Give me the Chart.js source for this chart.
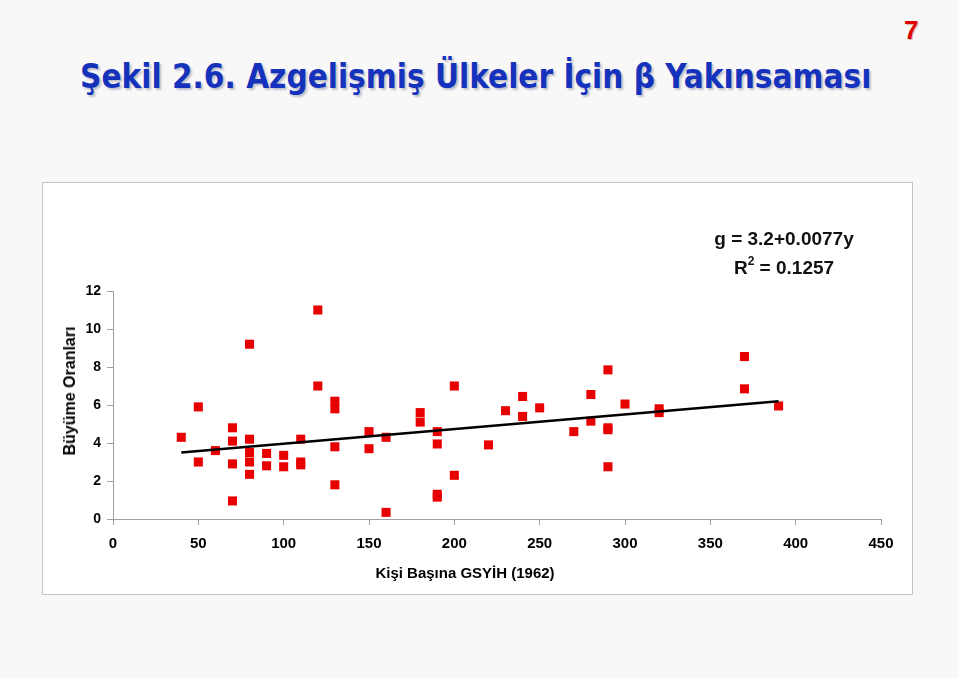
<!DOCTYPE html>
<html>
<head>
<meta charset="utf-8">
<script src="https://cdn.jsdelivr.net/npm/chart.js@4/dist/chart.umd.min.js"></script>
<style>
  body { margin: 0; background: #f8f8f8; width: 959px; height: 678px; position: relative; overflow: hidden; font-family: "Liberation Sans", Arial, sans-serif; }
  #title { position: absolute; left: 80px; top: 57px; font-family: "DejaVu Sans Condensed", "DejaVu Sans", sans-serif; font-weight: bold; font-size: 33px; color: #1432bc; white-space: nowrap; text-shadow: 2px 2px 2px #c0c0cc; }
  #page { position: absolute; left: 904px; top: 15px; font-weight: bold; font-size: 26px; color: #e00000; text-shadow: 1px 1px 1px #d0b0b0; }
  #box { position: absolute; left: 42px; top: 182px; width: 869px; height: 411px; background: #fff; border: 1px solid #c4c4c4; }
  #eq { position: absolute; left: 674px; top: 224px; font-weight: bold; font-size: 19px; color: #111; text-align: center; width: 220px; line-height: 29px; }
  #eq sup { font-size: 12px; line-height: 0; position: relative; top: -2px; }
  #ytitle { position: absolute; left: 70px; top: 391px; transform: translate(-50%, -50%) rotate(-90deg); font-weight: bold; font-size: 16px; white-space: nowrap; }
  #xtitle { position: absolute; left: 465px; top: 572px; transform: translate(-50%, -50%); font-weight: bold; font-size: 15px; white-space: nowrap; }
</style>
</head>
<body>
<div id="page">7</div>
<div id="title">Şekil 2.6. Azgelişmiş Ülkeler İçin β Yakınsaması</div>
<div id="box"><canvas id="chart" width="869" height="411"></canvas></div>
<div id="eq">g = 3.2+0.0077y<br>R<sup>2</sup> = 0.1257</div>
<div id="ytitle">Büyüme Oranları</div>
<div id="xtitle">Kişi Başına GSYİH (1962)</div>
<script>
// GSYİH per head (1962) and growth rate
const gdp = [40, 50, 50, 60, 70, 70, 70, 70, 80, 80, 80, 80, 80, 90, 90, 100, 100, 110, 110, 110,
  120, 120, 130, 130, 130, 130, 150, 150, 160, 160, 180, 180, 190, 190, 190, 190, 200, 200, 220, 230,
  240, 240, 250, 270, 280, 280, 290, 290, 290, 290, 300, 320, 320, 370, 370, 390];
const growth = [4.3, 5.9, 3.0, 3.6, 4.8, 4.1, 2.9, 0.95, 9.2, 4.2, 3.5, 3.0, 2.35, 3.45, 2.8, 3.35, 2.75, 4.2, 3.0, 2.85,
  11.0, 7.0, 6.2, 5.8, 3.8, 1.8, 4.6, 3.7, 4.3, 0.35, 5.6, 5.1, 4.6, 3.95, 1.3, 1.15, 7.0, 2.3, 3.9, 5.7,
  6.45, 5.4, 5.85, 4.6, 6.55, 5.15, 7.85, 4.8, 4.7, 2.75, 6.05, 5.8, 5.6, 8.55, 6.85, 5.95];

// trend line endpoints
const trendX = [40, 390];
const trendY = [3.5, 6.2];

const xTicks = [0, 50, 100, 150, 200, 250, 300, 350, 400, 450];
const yTicks = [0, 2, 4, 6, 8, 10, 12];

const points = gdp.map((x, i) => ({ x: x, y: growth[i] }));
const trend = trendX.map((x, i) => ({ x: x, y: trendY[i] }));

const axisColor = '#a0a0a0';

new Chart(document.getElementById('chart'), {
  type: 'scatter',
  data: {
    datasets: [
      {
        data: points,
        pointStyle: 'rect',
        pointRadius: 6.4,
        pointHoverRadius: 6.4,
        backgroundColor: '#e80000',
        borderWidth: 0,
        order: 2
      },
      {
        type: 'line',
        data: trend,
        borderColor: '#000',
        borderWidth: 2.6,
        pointRadius: 0,
        fill: false,
        order: 1
      }
    ]
  },
  options: {
    animation: false,
    responsive: false,
    layout: { padding: { left: 0, right: 31, top: 108, bottom: 0 } },
    plugins: { legend: { display: false }, tooltip: { enabled: false } },
    scales: {
      x: {
        type: 'linear',
        min: 0, max: 450,
        afterBuildTicks: s => { s.ticks = xTicks.map(v => ({ value: v })); },
        afterFit: s => { s.height = 75; },
        grid: { drawOnChartArea: false, color: axisColor, tickLength: 6 },
        border: { color: axisColor, width: 1 },
        ticks: { color: '#000', font: { family: '"Liberation Sans", Arial', size: 15, weight: 'bold' }, padding: 10, maxRotation: 0 }
      },
      y: {
        type: 'linear',
        min: 0, max: 12,
        afterBuildTicks: s => { s.ticks = yTicks.map(v => ({ value: v })); },
        afterFit: s => { s.width = 70; },
        grid: { drawOnChartArea: false, color: axisColor, tickLength: 6 },
        border: { color: axisColor, width: 1 },
        ticks: { color: '#000', font: { family: '"Liberation Sans", Arial', size: 14, weight: 'bold' }, padding: 6 }
      }
    }
  }
});
</script>
</body>
</html>
